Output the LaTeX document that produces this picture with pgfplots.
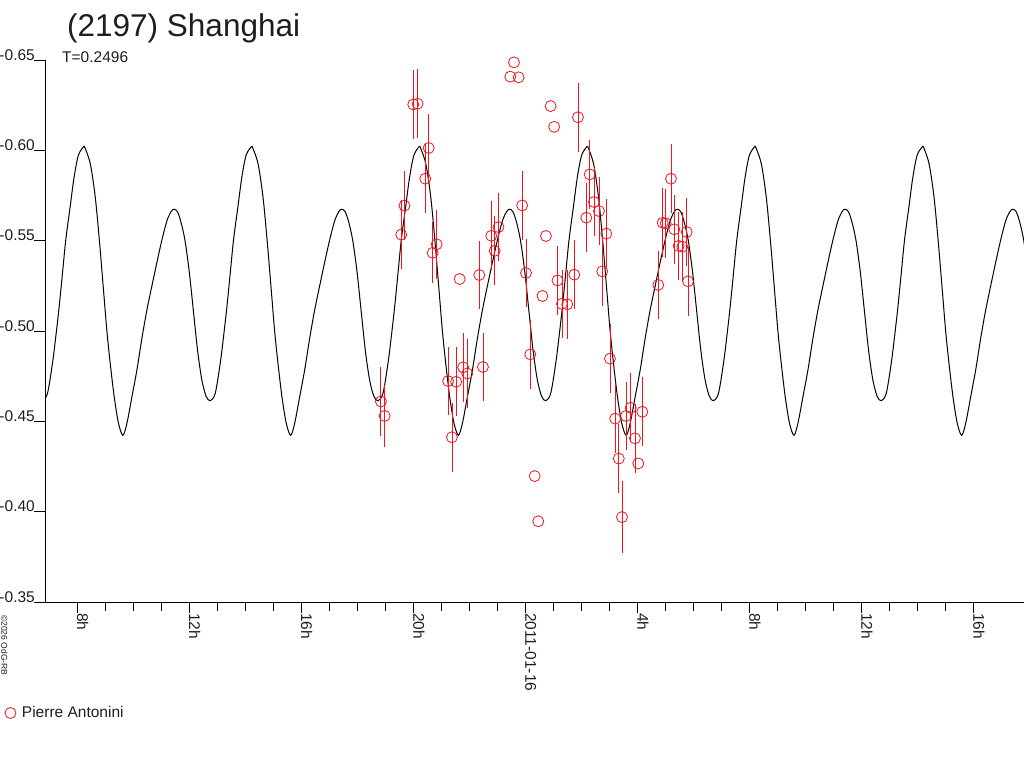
\documentclass[border=0pt]{standalone}
\usepackage{pgfplots}
\pgfplotsset{compat=1.18}
\usepackage{pgfplotstable}
\usepackage{fontspec}
\setmainfont{Liberation Sans}
\definecolor{obsred}{RGB}{240,20,30}
\definecolor{txt}{RGB}{30,30,30}

% one rotation period of the fitted curve (hours from maximum, magnitude)
\pgfplotstableread{
t m
0.000 -0.6024
0.214 -0.5928
0.393 -0.5743
0.546 -0.5494
0.689 -0.5227
0.811 -0.4998
0.929 -0.4821
1.071 -0.4636
1.225 -0.4489
1.382 -0.4423
1.525 -0.4489
1.704 -0.4636
1.882 -0.4784
2.061 -0.4960
2.239 -0.5116
2.418 -0.5250
2.596 -0.5380
2.775 -0.5504
2.954 -0.5610
3.100 -0.5660
3.204 -0.5674
3.330 -0.5660
3.460 -0.5600
3.600 -0.5500
3.750 -0.5330
3.900 -0.5110
4.050 -0.4890
4.200 -0.4730
4.350 -0.4640
4.500 -0.4614
4.679 -0.4655
4.857 -0.4821
4.975 -0.4968
5.096 -0.5134
5.214 -0.5319
5.332 -0.5504
5.489 -0.5688
5.632 -0.5854
5.786 -0.5975
5.9904 -0.6024
}\curve

% observations: hours from 2011-01-16 0h, magnitude, error
\pgfplotstableread{
h m e
-5.154 -0.4610 0.019
-5.021 -0.4530 0.017
-4.429 -0.5534 0.019
-4.314 -0.5694 0.019
-4.000 -0.6254 0.019
-3.843 -0.6258 0.019
-3.450 -0.6013 0.019
-3.571 -0.5843 0.019
-3.164 -0.5480 0.019
-3.307 -0.5433 0.017
-2.343 -0.5288 0
-2.754 -0.4723 0.019
-2.468 -0.4719 0.019
-2.618 -0.4412 0.019
-2.218 -0.4799 0.019
-2.071 -0.4765 0.019
-1.511 -0.4801 0.019
-1.643 -0.5310 0.019
-1.214 -0.5527 0.019
-1.093 -0.5444 0.019
-0.957 -0.5575 0.019
-0.404 -0.6487 0
-0.536 -0.6408 0
-0.236 -0.6404 0
-0.111 -0.5695 0.019
0.025 -0.5321 0.019
0.179 -0.4871 0.019
0.739 -0.5526 0
0.336 -0.4197 0
0.464 -0.3947 0
0.907 -0.6245 0
1.032 -0.6130 0
1.882 -0.6183 0.019
1.150 -0.5280 0.019
1.311 -0.5150 0.019
1.500 -0.5148 0.019
1.750 -0.5312 0.019
2.179 -0.5627 0.019
2.300 -0.5867 0.019
2.454 -0.5714 0.019
2.632 -0.5664 0.019
2.893 -0.5539 0.019
2.750 -0.5330 0.019
3.025 -0.4847 0.019
3.211 -0.4515 0.019
3.339 -0.4294 0.019
0.614 -0.5194 0
3.454 -0.3970 0.020
3.596 -0.4530 0.019
3.764 -0.4575 0.019
3.918 -0.4406 0.019
4.036 -0.4267 0
4.179 -0.4553 0.019
4.750 -0.5255 0.019
4.907 -0.5599 0.019
5.014 -0.5596 0.019
5.204 -0.5843 0.019
5.321 -0.5563 0.019
5.479 -0.5471 0.019
5.607 -0.5467 0.019
5.764 -0.5548 0.019
5.811 -0.5275 0.019
}\obs

\begin{document}
\begin{tikzpicture}
\useasboundingbox (0,0) rectangle (1024pt,768pt);
\begin{axis}[
  at={(45pt,166pt)}, anchor=south west,
  scale only axis, width=979pt, height=542pt,
  xmin=-17.15, xmax=17.81, ymin=-0.65, ymax=-0.35,
  y dir=reverse,
  axis lines*=left,
  axis line style={line width=0.8pt, black},
  xtick={-16,-12,-8,-4,0,4,8,12,16},
  xticklabels={8h,12h,16h,20h,2011-01-16,4h,8h,12h,16h},
  minor x tick num=3,
  ytick={-0.65,-0.60,-0.55,-0.50,-0.45,-0.40,-0.35},
  yticklabels={-0.65,-0.60,-0.55,-0.50,-0.45,-0.40,-0.35},
  tick align=outside,
  major tick length=11pt, minor tick length=8.5pt,
  tick style={black, line width=0.8pt},
  ticklabel style={font=\fontsize{15.5}{18}\selectfont, text=txt},
  xticklabel style={rotate=-90, anchor=base west, inner sep=0pt},
  yticklabel style={anchor=base east, inner sep=0pt, xshift=1pt},
  legend style={draw=none, fill=none, inner sep=0pt, outer sep=0pt,
    at={(-0.0409,-0.2048)}, anchor=west,
    font=\fontsize{15.5}{18}\selectfont, text=txt,
    /tikz/every odd column/.append style={column sep=4pt}},
  legend cell align=left,
  legend image code/.code={\draw[#1] plot coordinates {(0pt,0pt)};},
]
\pgfplotsinvokeforeach{-1,0,1,2,3,4,5}{
  \addplot[black, line width=1pt, smooth, forget plot]
    table[x expr=\thisrow{t}+(#1)*5.9904-15.75, y=m] {\curve};
}
\addplot[only marks, mark=o, mark size=5.5pt, color=obsred,
  mark options={line width=0.8pt},
  error bars/.cd, y dir=both, y explicit, error mark=none,
  error bar style={line width=0.9pt, obsred}]
  table[x=h, y=m, y error=e] {\obs};
\addlegendentry{Pierre Antonini}
\end{axis}
\node[anchor=base west, font=\fontsize{31.5}{36}\selectfont, text=txt, inner sep=0pt] at (67pt,731pt) {(2197) Shanghai};
\node[anchor=base west, font=\fontsize{15.5}{18}\selectfont, text=txt, inner sep=0pt] at (62pt,705pt) {T=0.2496};
\node[rotate=-90, anchor=base west, font=\fontsize{8.5}{10}\selectfont, text=txt, inner sep=0pt] at (1.5pt,153pt) {©2026 OdG-RB};
\end{tikzpicture}
\end{document}
